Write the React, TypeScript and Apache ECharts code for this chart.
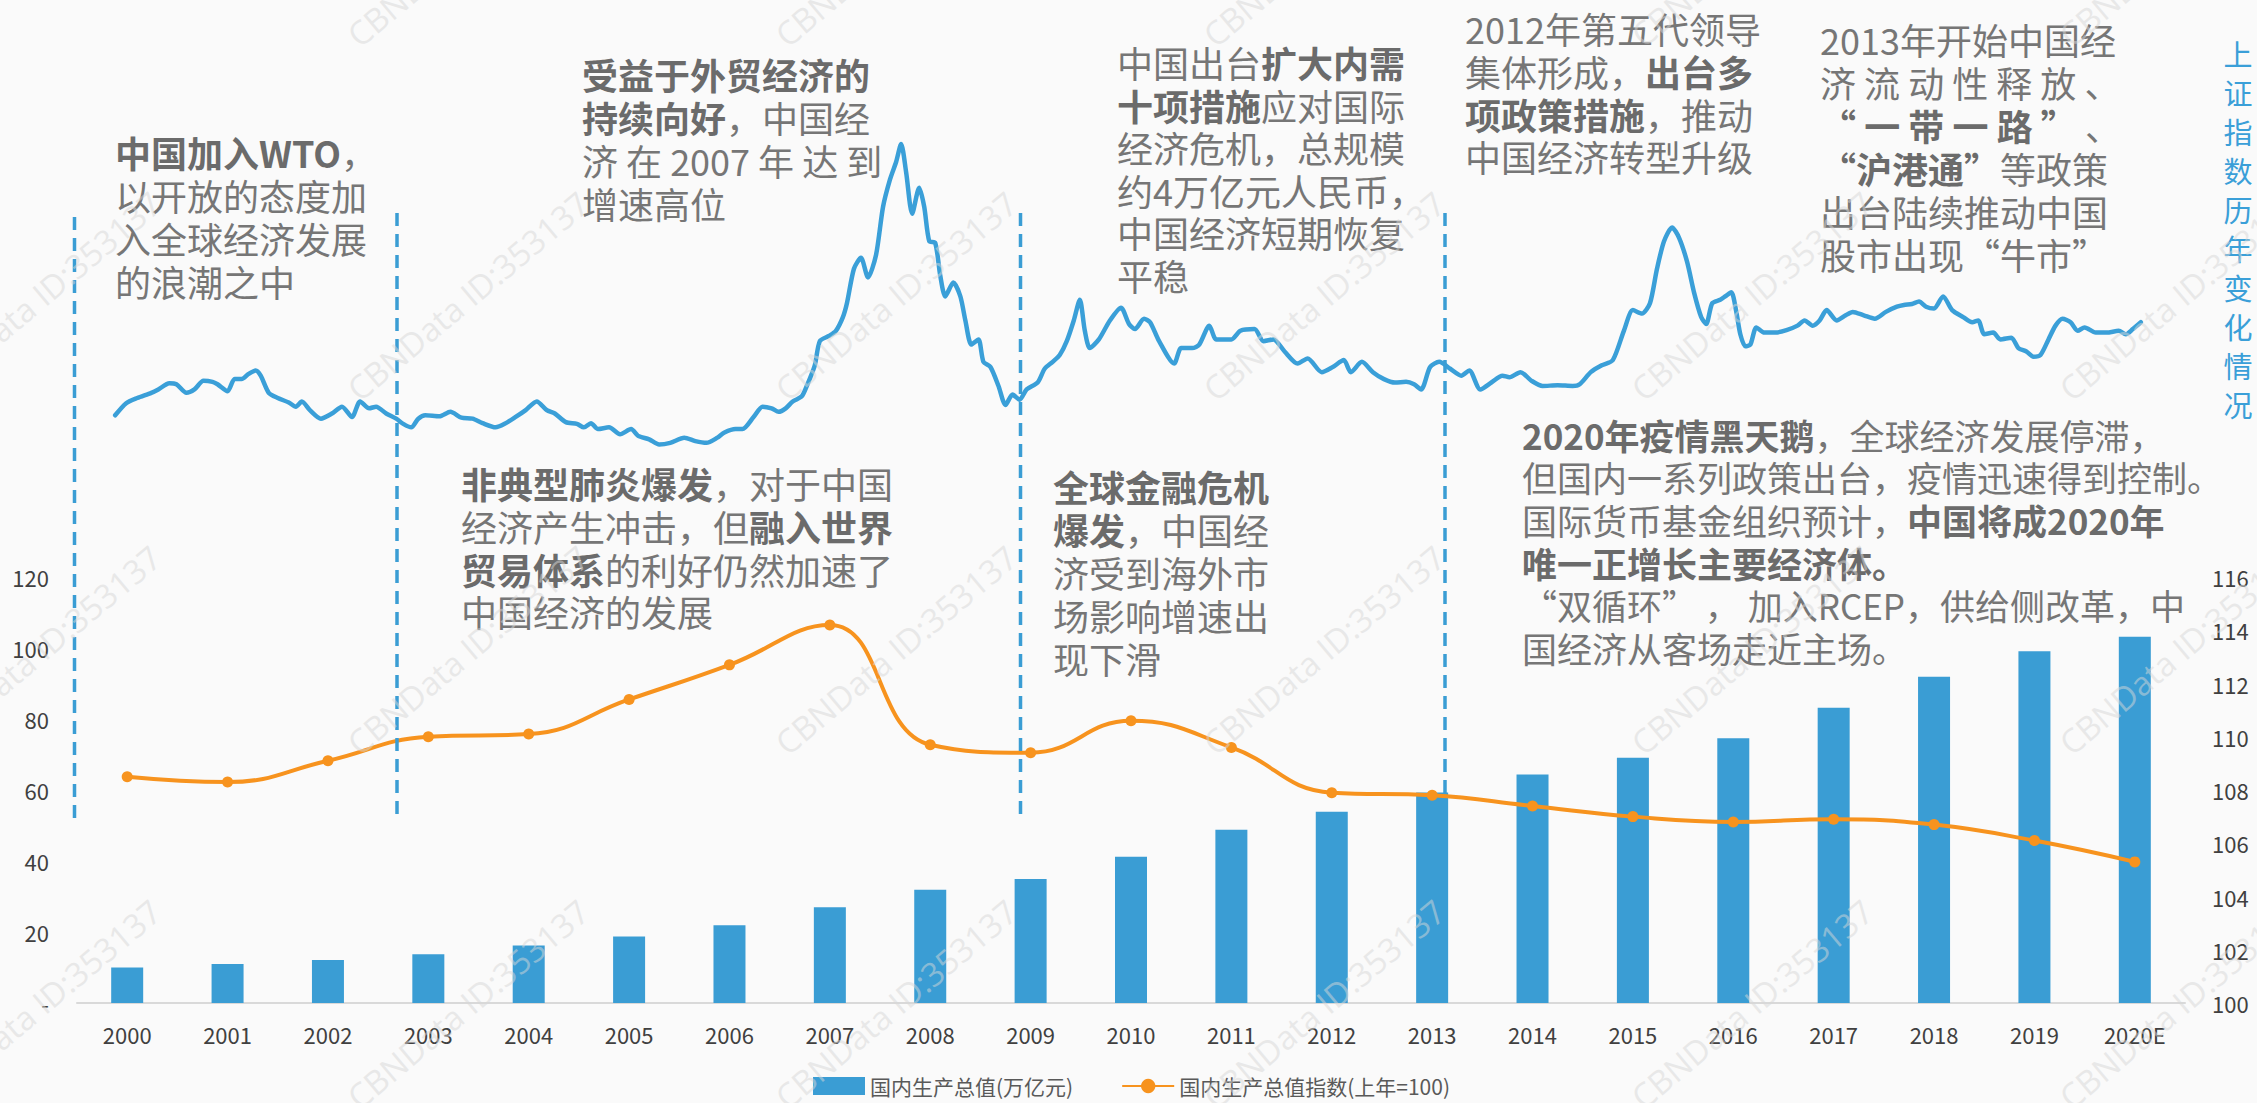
import React, { useEffect, useRef } from 'react';
import * as echarts from 'echarts';

// ---------- data ----------
const years = ['2000', '2001', '2002', '2003', '2004', '2005', '2006', '2007', '2008', '2009', '2010',
  '2011', '2012', '2013', '2014', '2015', '2016', '2017', '2018', '2019', '2020E'];
const gdp = [10.0, 11.0, 12.1, 13.7, 16.2, 18.7, 21.9, 27.0, 31.9, 34.9, 41.2, 48.8, 53.9, 59.3,
  64.4, 69.1, 74.6, 83.2, 91.9, 99.1, 103.2];
const gdpIndex = [108.5, 108.3, 109.1, 110.0, 110.1, 111.4, 112.7, 114.2, 109.7, 109.4, 110.6,
  109.6, 107.9, 107.8, 107.4, 107.0, 106.8, 106.9, 106.7, 106.1, 105.3];
const leftTicks = { min: 0, max: 120, interval: 20 };
const rightTicks = { min: 100, max: 116, interval: 2 };

// Shanghai Composite index (approximate trace), time in years, value in points
const shT = [1999.88, 1999.99, 2000.10, 2000.24, 2000.31, 2000.42, 2000.49, 2000.59, 2000.67, 2000.76,
  2000.85, 2000.90, 2001.00, 2001.07, 2001.14, 2001.21, 2001.28, 2001.33, 2001.41, 2001.50,
  2001.61, 2001.68, 2001.74, 2001.82, 2001.93, 2002.04, 2002.14, 2002.24, 2002.32, 2002.41,
  2002.48, 2002.58, 2002.68, 2002.75, 2002.83, 2002.90, 2002.97, 2003.11, 2003.22, 2003.33,
  2003.44, 2003.54, 2003.67, 2003.76, 2003.87, 2003.97, 2004.08, 2004.18, 2004.26, 2004.37,
  2004.48, 2004.55, 2004.62, 2004.69, 2004.80, 2004.91, 2005.02, 2005.09, 2005.20, 2005.30,
  2005.41, 2005.55, 2005.66, 2005.77, 2005.88, 2005.95, 2006.06, 2006.13, 2006.24, 2006.33,
  2006.42, 2006.49, 2006.56, 2006.63, 2006.72, 2006.77, 2006.85, 2006.90, 2006.99, 2007.06,
  2007.13, 2007.17, 2007.24, 2007.31, 2007.38, 2007.46, 2007.53, 2007.60, 2007.66, 2007.71,
  2007.76, 2007.82, 2007.89, 2007.94, 2007.99, 2008.05, 2008.10, 2008.15, 2008.23, 2008.30,
  2008.35, 2008.41, 2008.48, 2008.53, 2008.60, 2008.68, 2008.75, 2008.82, 2008.89, 2008.96,
  2009.07, 2009.14, 2009.22, 2009.29, 2009.36, 2009.43, 2009.49, 2009.54, 2009.59, 2009.68,
  2009.79, 2009.90, 2009.98, 2010.04, 2010.13, 2010.19, 2010.28, 2010.43, 2010.50, 2010.61,
  2010.68, 2010.78, 2010.85, 2011.00, 2011.09, 2011.23, 2011.32, 2011.42, 2011.53, 2011.66,
  2011.76, 2011.90, 2012.01, 2012.12, 2012.19, 2012.30, 2012.41, 2012.52, 2012.63, 2012.74,
  2012.82, 2012.89, 2012.98, 2013.07, 2013.18, 2013.29, 2013.37, 2013.48, 2013.59, 2013.70,
  2013.77, 2013.88, 2013.99, 2014.10, 2014.25, 2014.40, 2014.47, 2014.58, 2014.69, 2014.80,
  2014.91, 2015.00, 2015.09, 2015.17, 2015.24, 2015.31, 2015.39, 2015.46, 2015.54, 2015.61,
  2015.68, 2015.73, 2015.79, 2015.87, 2015.92, 2015.98, 2016.03, 2016.07, 2016.12, 2016.17,
  2016.23, 2016.31, 2016.42, 2016.53, 2016.64, 2016.71, 2016.79, 2016.86, 2016.93, 2017.03,
  2017.12, 2017.19, 2017.30, 2017.41, 2017.52, 2017.63, 2017.70, 2017.78, 2017.85, 2017.92,
  2018.00, 2018.09, 2018.18, 2018.29, 2018.38, 2018.44, 2018.50, 2018.59, 2018.66, 2018.77,
  2018.84, 2018.92, 2018.99, 2019.06, 2019.14, 2019.21, 2019.28, 2019.36, 2019.43, 2019.50,
  2019.61, 2019.72, 2019.84, 2019.91, 2019.98, 2020.06];
const shV = [1493, 1699, 1787, 1875, 1933, 2039, 2021, 1875, 1933, 2080,
  2062, 2021, 1904, 2109, 2109, 2197, 2256, 2168, 1875, 1787,
  1711, 1640, 1728, 1581, 1435, 1523, 1640, 1464, 1728, 1611,
  1640, 1523, 1435, 1347, 1288, 1435, 1493, 1476, 1552, 1452,
  1435, 1359, 1288, 1347, 1464, 1581, 1728, 1581, 1523, 1376,
  1347, 1288, 1359, 1259, 1288, 1171, 1259, 1142, 1083, 995,
  1024, 1112, 1054, 1024, 1112, 1200, 1259, 1259, 1464, 1640,
  1611, 1552, 1611, 1728, 1816, 1992, 2344, 2755, 2843, 2931,
  3165, 3400, 3987, 4174, 3840, 4221, 5042, 5512, 5805, 6110,
  5629, 4925, 5365, 5042, 4456, 4426, 3869, 3517, 3752, 3517,
  3107, 2696, 2784, 2403, 2315, 1992, 1669, 1845, 1757, 1933,
  2051, 2285, 2403, 2520, 2755, 3107, 3459, 2931, 2637, 2784,
  3107, 3324, 3048, 2960, 3136, 3077, 2755, 2373, 2637, 2637,
  2696, 3019, 2784, 2784, 2931, 2960, 2755, 2784, 2579, 2373,
  2461, 2227, 2315, 2432, 2227, 2403, 2227, 2109, 2051, 2062,
  2021, 1933, 2315, 2403, 2285, 2168, 2256, 1933, 2051, 2168,
  2139, 2227, 2080, 1992, 2004, 1992, 2021, 2227, 2344, 2432,
  2931, 3283, 3224, 3400, 3987, 4456, 4690, 4514, 4104, 3576,
  3165, 3048, 3400, 3459, 3517, 3588, 3253, 2872, 2667, 2696,
  2989, 2901, 2901, 2942, 3019, 3107, 3019, 3107, 3283, 3107,
  3195, 3253, 3195, 3136, 3253, 3341, 3371, 3388, 3429, 3341,
  3312, 3517, 3283, 3165, 3077, 3107, 2872, 2901, 2784, 2813,
  2637, 2579, 2491, 2520, 2784, 3019, 3136, 3077, 2931, 2989,
  2901, 2901, 2931, 2872, 2960, 3077];

const legendNames = ['国内生产总值(万亿元)', '国内生产总值指数(上年=100)'];
const sideTitle = '上证指数历年变化情况';

const notes = [
  '{b|中国加入WTO}，\n以开放的态度加\n入全球经济发展\n的浪潮之中',
  '{b|受益于外贸经济的}\n{b|持续向好}，中国经\n济 在 2007 年 达 到\n增速高位',
  '中国出台{b|扩大内需}\n{b|十项措施}应对国际\n经济危机，总规模\n约4万亿元人民币，\n中国经济短期恢复\n平稳',
  '2012年第五代领导\n集体形成，{b|出台多}\n{b|项政策措施}，推动\n中国经济转型升级',
  '2013年开始中国经\n济 流 动 性 释 放 、\n{b|“ 一 带 一 路 ”} 、\n{b|“沪港通”}等政策\n出台陆续推动中国\n股市出现“牛市”',
  '{b|非典型肺炎爆发}，对于中国\n经济产生冲击，但{b|融入世界}\n{b|贸易体系}的利好仍然加速了\n中国经济的发展',
  '{b|全球金融危机}\n{b|爆发}，中国经\n济受到海外市\n场影响增速出\n现下滑',
  '{b|2020年疫情黑天鹅}，全球经济发展停滞，\n但国内一系列政策出台，疫情迅速得到控制。\n国际货币基金组织预计，{b|中国将成2020年}\n{b|唯一正增长主要经济体。}\n“双循环” ， 加入RCEP，供给侧改革，中\n国经济从客场走近主场。',
];
const watermark = 'CBNData ID:353137';

const FONT = "'Noto Sans CJK SC', 'Microsoft YaHei', sans-serif";
const BLUE = '#3A9DD4';
const ORANGE = '#F7931E';
const GRAY = '#767676';
const GRAY_B = '#6B6B6B';

export default function App() {
  const ref = useRef<HTMLDivElement>(null);
  useEffect(() => {
    document.body.style.margin = '0';
    document.body.style.background = '#FAFAFA';
    const chart = echarts.init(ref.current!, null, { renderer: 'svg' });

    // annotation layout (position, size)
    const noteLayout = [
      { x: 115, y: 130, fs: 36, lh: 43 },
      { x: 582, y: 52, fs: 36, lh: 43 },
      { x: 1117, y: 41, fs: 36, lh: 42.5 },
      { x: 1465, y: 7, fs: 36, lh: 42.7 },
      { x: 1820, y: 17, fs: 36, lh: 43 },
      { x: 461, y: 462, fs: 36, lh: 42.7 },
      { x: 1053, y: 464, fs: 36, lh: 43 },
      { x: 1522, y: 413, fs: 35, lh: 42.6 },
    ];
    const noteEls = notes.map((t, i) => {
      const L = noteLayout[i];
      return {
        type: 'text',
        x: L.x,
        y: L.y,
        z: 10,
        style: {
          text: t,
          fill: GRAY,
          fontSize: L.fs,
          fontFamily: FONT,
          lineHeight: L.lh,
          align: 'left',
          verticalAlign: 'top',
          rich: {
            b: { fontSize: L.fs, fontFamily: FONT, fontWeight: 'bold', fill: GRAY_B, lineHeight: L.lh },
          },
        },
      };
    });

    const dashes = [
      [74.5, 217, 823],
      [397, 213, 818],
      [1020.5, 213, 818],
      [1445, 213, 794],
    ].map(([x, y1, y2]) => ({
      type: 'line',
      z: 5,
      shape: { x1: x, y1, x2: x, y2 },
      style: { stroke: BLUE, lineWidth: 3.5, lineDash: [13, 8] },
    }));

    const wm: any[] = [];
    for (let j = 0; j < 4; j++) {
      for (let k = 0; k < 6; k++) {
        wm.push({
          type: 'text',
          x: 40 + 428 * k,
          y: -58 + 354 * j,
          rotation: (40 * Math.PI) / 180,
          z: 100,
          silent: true,
          style: {
            text: watermark,
            fill: 'rgba(215,215,215,0.5)',
            fontSize: 33,
            fontFamily: "'Open Sans', sans-serif",
            align: 'center',
            verticalAlign: 'middle',
          },
        });
      }
    }

    const option: any = {
      animation: false,
      backgroundColor: '#FAFAFA',
      grid: [
        { left: 77, right: 72, top: 577, bottom: 100, containLabel: false, outerBoundsMode: 'none' },
        { left: 77, right: 72, top: 33, bottom: 600, containLabel: false, outerBoundsMode: 'none' },
      ],
      legend: {
        left: 813,
        top: 1074,
        itemWidth: 52,
        itemHeight: 18,
        itemGap: 48,
        padding: 0,
        textStyle: { fontSize: 21, lineHeight: 24, color: '#595959', fontFamily: FONT },
        data: [{ name: legendNames[0], icon: 'rect' }, { name: legendNames[1] }],
      },
      xAxis: [
        {
          type: 'category',
          gridIndex: 0,
          data: years,
          axisLine: { show: true, lineStyle: { color: '#D9D9D9', width: 2 } },
          axisTick: { show: false },
          axisLabel: { fontSize: 22, color: '#404040', margin: 20, interval: 0, fontFamily: FONT },
          splitLine: { show: false },
        },
        { type: 'value', gridIndex: 1, min: 1999.5, max: 2020.5, show: false },
      ],
      yAxis: [
        {
          type: 'value',
          gridIndex: 0,
          min: leftTicks.min,
          max: leftTicks.max,
          interval: leftTicks.interval,
          axisLine: { show: false },
          axisTick: { show: false },
          splitLine: { show: false },
          axisLabel: {
            fontSize: 22, color: '#404040', margin: 28, fontFamily: FONT,
            formatter: (v: number) => (v === 0 ? '-' : String(v)),
          },
        },
        {
          type: 'value',
          gridIndex: 0,
          position: 'right',
          min: rightTicks.min,
          max: rightTicks.max,
          interval: rightTicks.interval,
          axisLine: { show: false },
          axisTick: { show: false },
          splitLine: { show: false },
          axisLabel: { fontSize: 22, color: '#404040', margin: 27, fontFamily: FONT },
        },
        { type: 'value', gridIndex: 1, min: 0, max: 8000, show: false },
      ],
      series: [
        {
          name: legendNames[0],
          type: 'bar',
          xAxisIndex: 0,
          yAxisIndex: 0,
          data: gdp,
          barWidth: 32,
          itemStyle: { color: BLUE },
        },
        {
          name: legendNames[1],
          type: 'line',
          xAxisIndex: 0,
          yAxisIndex: 1,
          data: gdpIndex,
          smooth: 0.45,
          symbol: 'circle',
          symbolSize: 11,
          itemStyle: { color: ORANGE },
          lineStyle: { color: ORANGE, width: 4 },
          z: 3,
        },
        {
          name: 'shindex',
          type: 'line',
          xAxisIndex: 1,
          yAxisIndex: 2,
          data: shT.map((t, i) => [t, shV[i]]),
          smooth: 0.25,
          showSymbol: false,
          symbol: 'none',
          lineStyle: { color: '#3A9FD8', width: 4.5, cap: 'round', join: 'round' },
          itemStyle: { color: '#3A9FD8' },
          z: 3,
        },
      ],
      graphic: [
        ...dashes,
        ...noteEls,
        {
          type: 'text',
          x: 2238,
          y: 33,
          z: 10,
          style: {
            text: sideTitle.split('').join('\n'),
            fill: '#3A9FD8',
            fontSize: 29,
            fontFamily: FONT,
            lineHeight: 39,
            align: 'center',
            verticalAlign: 'top',
          },
        },
        ...wm,
      ],
    };
    chart.setOption(option);
    return () => chart.dispose();
  }, []);
  return <div ref={ref} style={{ width: 2257, height: 1103 }} />;
}
